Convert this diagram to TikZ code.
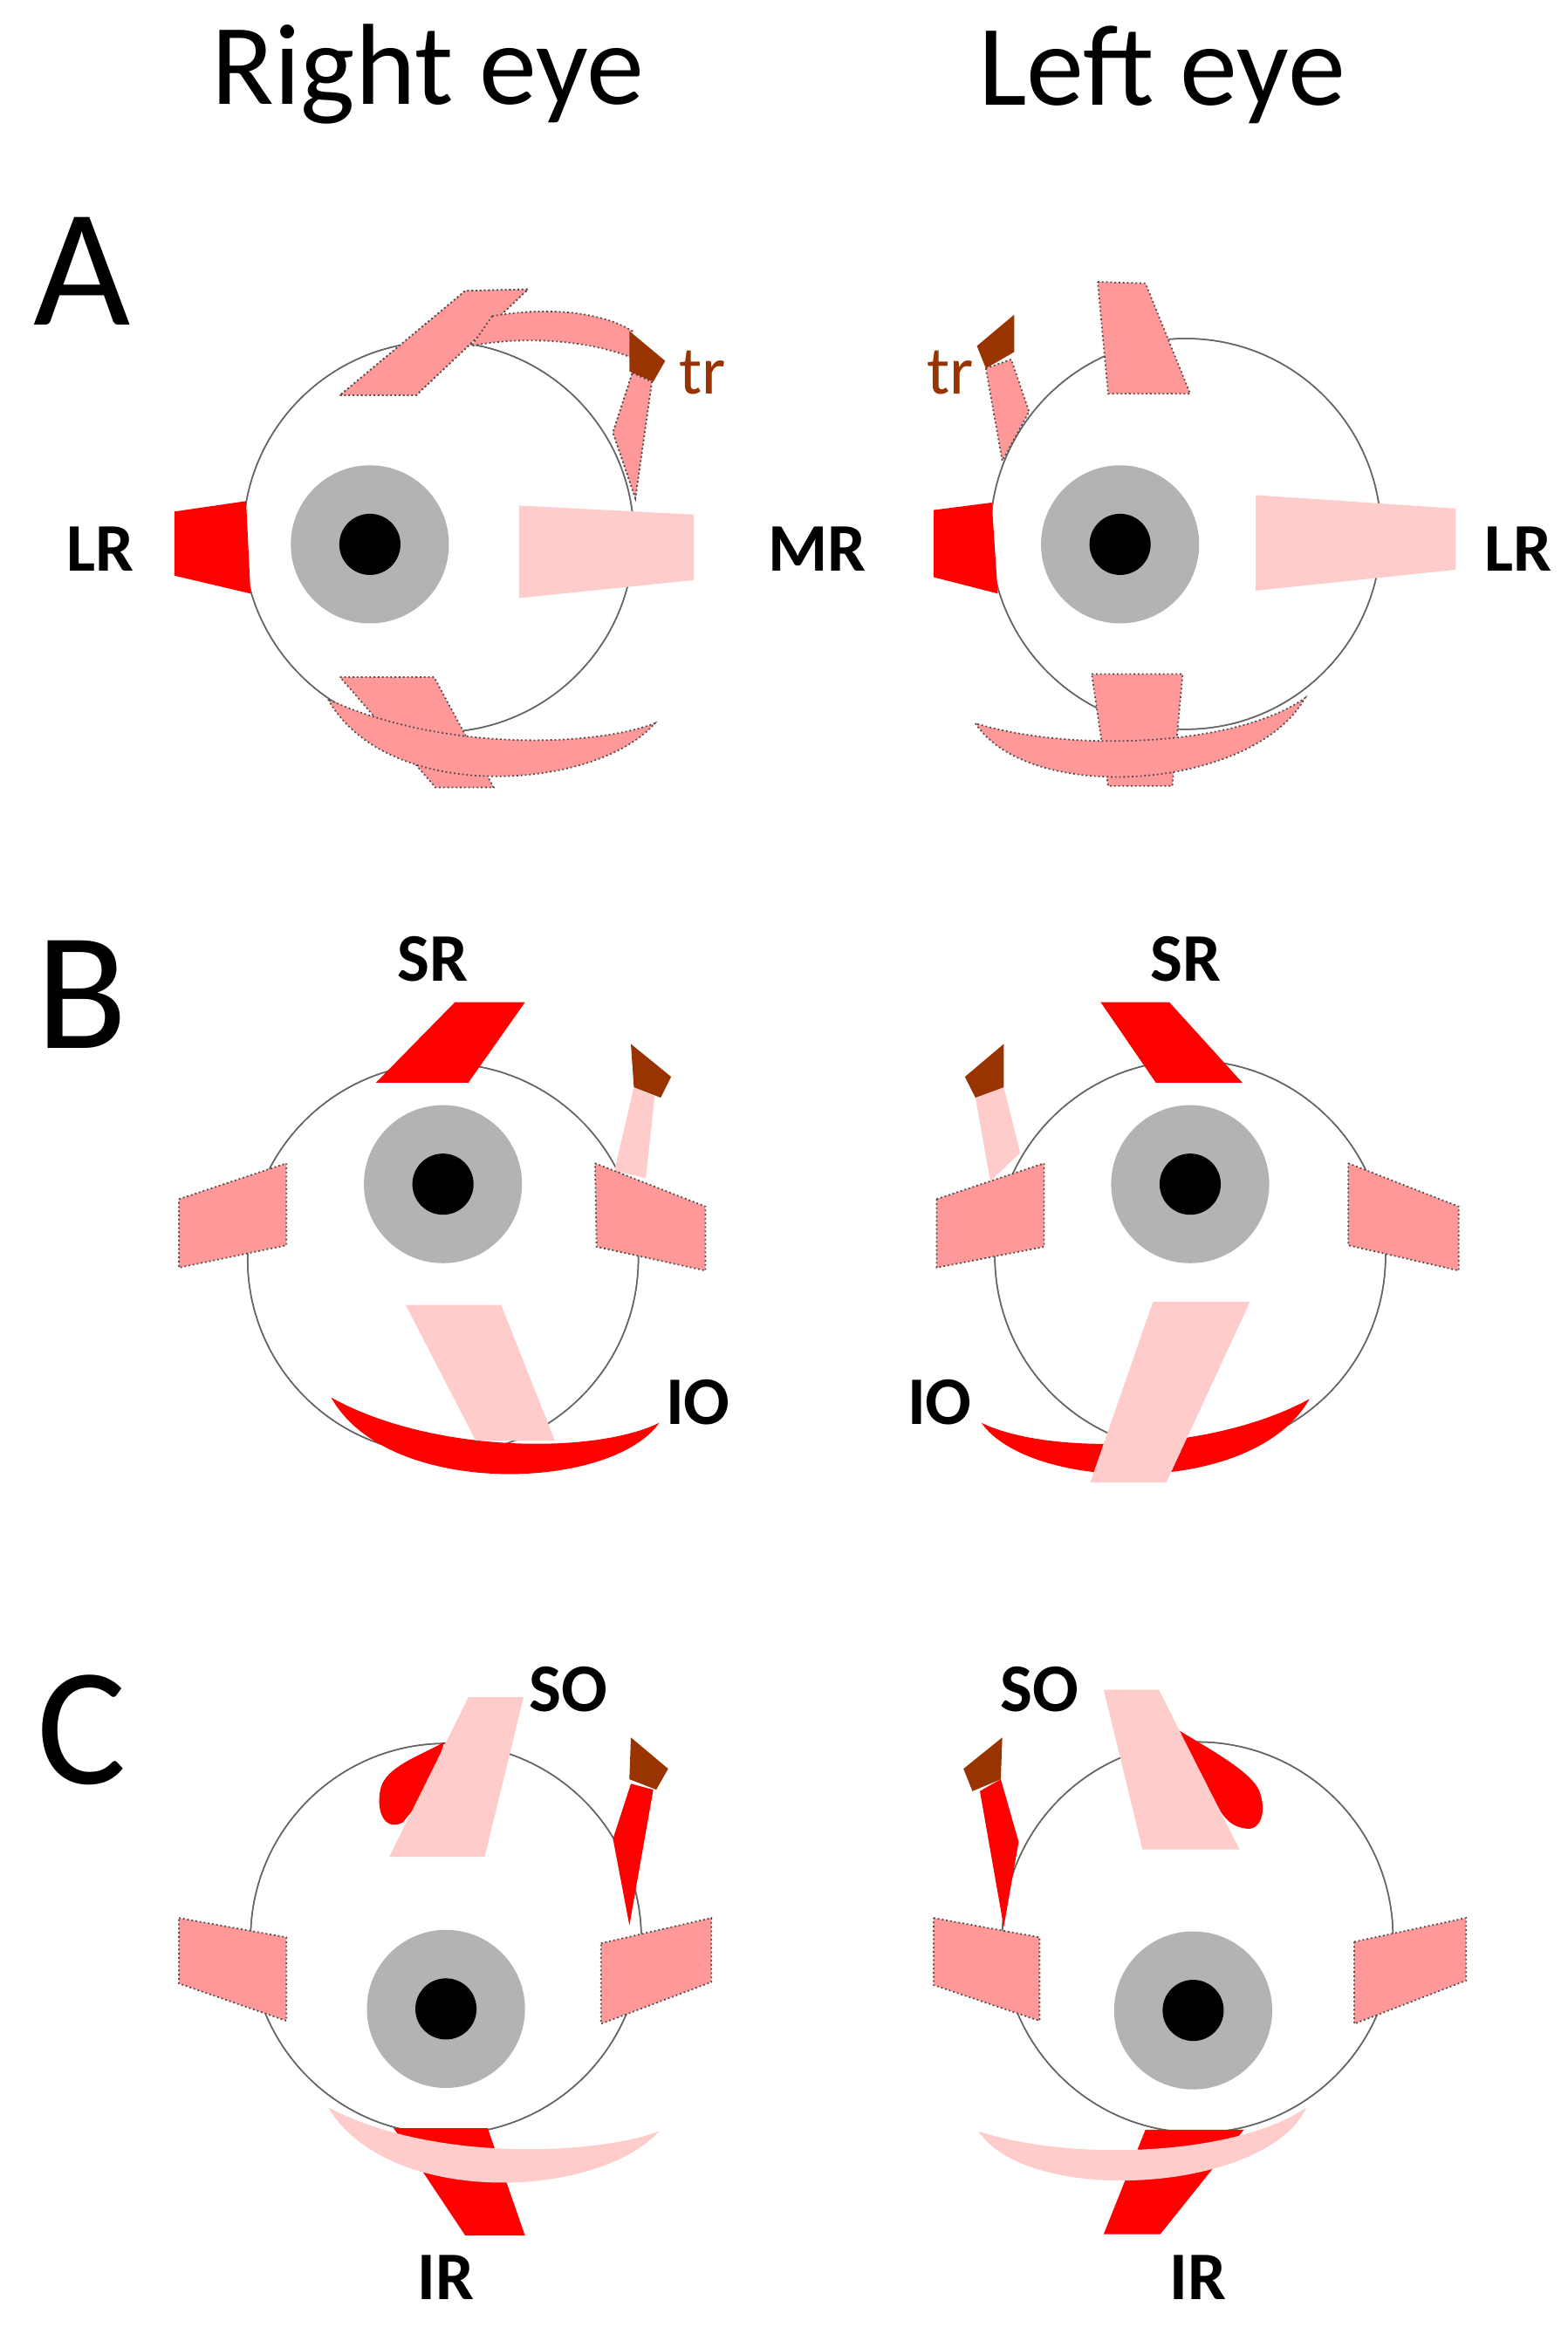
\documentclass[tikz,border=0pt]{standalone}
\usepackage{fontspec}
\setmainfont{Carlito}
\definecolor{mred}{HTML}{FF0000}
\definecolor{mpink}{HTML}{FFCCCC}
\definecolor{msal}{HTML}{FF9999}
\definecolor{mbrown}{HTML}{993300}
\definecolor{miris}{HTML}{B3B3B3}
\begin{document}
\begin{tikzpicture}[x=0.02cm,y=-0.02cm,
  ball/.style={draw=gray!80!black,line width=0.5pt,fill=white},
  sal/.style={fill=msal,draw=gray!60!black,densely dotted,line width=0.6pt},
  red/.style={fill=mred},
  pnk/.style={fill=mpink},
  tro/.style={fill=mbrown},
  title/.style={font=\fontsize{44}{50}\selectfont},
  panel/.style={font=\fontsize{64}{70}\selectfont},
  lab/.style={font=\fontsize{26}{30}\selectfont\bfseries},
  trl/.style={font=\fontsize{26}{30}\selectfont,text=mbrown}]
\useasboundingbox (0,0) rectangle (1051,1565);
\newcommand{\eyeball}[3]{%
  \fill[ball] (#1) circle (131);
  \fill[miris] (#2) circle (53);
  \fill[black] (#2) circle (20.5);
  \draw[draw=gray!80!black,line width=0.5pt] (#1) circle (131);}
% titles
\node[title] (t1) at (287,50) {Right eye};
\node[title] (t2) at (779,50) {Left eye};
\node[panel] (pa) at (55,182) {A};
\node[panel] (pb) at (55,667) {B};
\node[panel] (pc) at (55,1160) {C};
% ================= A right
\eyeball{294,360}{248,365}
\fill[sal] (330,212) .. controls (370,205) and (405,210) .. (424,222) -- (424,240) .. controls (395,228) and (350,225) .. (316,232) -- cycle;
\fill[sal] (228,265) -- (279,265) -- (354,194) -- (312,195) -- cycle;
\draw[sal] (228,265) -- (279,265) -- (354,194) -- (312,195) -- cycle;
\draw[sal] (330,212) .. controls (370,205) and (405,210) .. (424,222) -- (424,240) .. controls (395,228) and (350,225) .. (316,232) -- cycle;
\fill[sal] (424,250) -- (437,256) -- (426,334) -- (411,290) -- cycle;
\draw[sal] (424,250) -- (437,256) -- (426,334) -- (411,290) -- cycle;
\fill[tro] (422,222) -- (446,242) -- (438,256) -- (422,249) -- cycle;
\fill[red] (117,343) -- (165,336) -- (168,398) -- (117,386) -- cycle;
\fill[pnk] (348,339) -- (465,345) -- (465,389) -- (348,401) -- cycle;
\draw[sal] (228,454) -- (291,454) -- (331,528) -- (292,528) -- cycle;
\draw[sal] (220,469) .. controls (260,540) and (400,530) .. (439,485) .. controls (400,500) and (300,505) .. (220,469) -- cycle;
\node[lab] (alr) at (67,368) {LR};
\node[lab] (amr) at (548,368) {MR};
\node[trl] (atr1) at (471,250) {tr};
% ================= A left
\eyeball{795,358}{751,365}
\draw[sal] (680,212) .. controls (700,205) and (760,200) .. (782,222) .. controls (800,235) and (812,250) .. (812,262) -- (792,250) .. controls (770,232) and (720,226) .. (680,236) -- cycle;
\draw[sal] (736,189) -- (768,190) -- (798,264) -- (743,264) -- cycle;
\draw[sal] (661,247) -- (678,241) -- (690,276) -- (672,309) -- cycle;
\fill[tro] (655,232) -- (680,211) -- (680,236) -- (661,247) -- cycle;
\fill[red] (626,342) -- (665,337) -- (669,398) -- (626,387) -- cycle;
\fill[pnk] (842,332) -- (976,341) -- (976,382) -- (842,396) -- cycle;
\draw[sal] (732,452) -- (793,452) -- (786,527) -- (743,527) -- cycle;
\draw[sal] (654,485) .. controls (690,540) and (840,530) .. (875,468) .. controls (830,500) and (720,505) .. (654,485) -- cycle;
\node[lab] (alr2) at (1018,368) {LR};
\node[trl] (atr2) at (637,250) {tr};
% ================= B right
\eyeball{297,844}{297,794}
\fill[pnk] (333,692) .. controls (370,685) and (405,690) .. (424,701) -- (424,717) .. controls (395,708) and (355,703) .. (324,708) -- cycle;
\fill[pnk] (425,729) -- (439,735) -- (433,790) -- (412,785) -- cycle;
\fill[tro] (423,700) -- (450,722) -- (443,736) -- (425,729) -- cycle;
\fill[red] (252,726) -- (314,726) -- (352,672) -- (305,672) -- cycle;
\draw[sal] (120,804) -- (192,780) -- (192,835) -- (120,850) -- cycle;
\draw[sal] (399,780) -- (473,809) -- (473,852) -- (400,836) -- cycle;
\fill[red] (222,937) .. controls (260,1005) and (410,1000) .. (442,954) .. controls (400,975) and (290,975) .. (222,937) -- cycle;
\fill[pnk] (272,875) -- (336,875) -- (372,966) -- (319,966) -- cycle;
\node[lab] (bsr1) at (290,643) {SR};
\node[lab] (bio1) at (468,940) {IO};
% ================= B left
\eyeball{798,842}{798,794}
\fill[pnk] (673,701) .. controls (700,690) and (730,688) .. (752,691) -- (763,708) .. controls (730,705) and (700,708) .. (673,717) -- cycle;
\fill[pnk] (654,736) -- (673,729) -- (684,773) -- (664,792) -- cycle;
\fill[tro] (647,722) -- (673,700) -- (673,729) -- (654,736) -- cycle;
\fill[red] (738,672) -- (784,672) -- (833,726) -- (775,726) -- cycle;
\draw[sal] (628,804) -- (700,780) -- (700,836) -- (628,850) -- cycle;
\draw[sal] (904,780) -- (978,809) -- (978,852) -- (904,835) -- cycle;
\fill[red] (658,954) .. controls (690,1000) and (840,1005) .. (878,938) .. controls (810,975) and (700,975) .. (658,954) -- cycle;
\fill[pnk] (773,873) -- (838,873) -- (782,994) -- (731,994) -- cycle;
\node[lab] (bsr2) at (795,643) {SR};
\node[lab] (bio2) at (630,940) {IO};
% ================= C right
\eyeball{299,1300}{299,1347}
\fill[red] (346,1157) .. controls (380,1160) and (405,1168) .. (423,1178) -- (423,1196) .. controls (400,1190) and (370,1185) .. (341,1186) -- cycle;
\fill[red] (298,1168) .. controls (280,1178) and (258,1185) .. (255,1200) .. controls (252,1215) and (258,1228) .. (270,1222) -- (288,1200) -- cycle;
\fill[pnk] (314,1138) -- (351,1138) -- (325,1245) -- (261,1245) -- cycle;
\fill[red] (423,1196) -- (438,1200) -- (422,1291) -- (411,1233) -- cycle;
\fill[tro] (423,1165) -- (448,1186) -- (440,1200) -- (422,1193) -- cycle;
\draw[sal] (120,1286) -- (192,1299) -- (192,1355) -- (120,1330) -- cycle;
\draw[sal] (403,1303) -- (477,1286) -- (477,1329) -- (403,1357) -- cycle;
\fill[red] (264,1427) -- (327,1427) -- (352,1499) -- (312,1499) -- cycle;
\fill[pnk] (220,1413) .. controls (260,1480) and (400,1475) .. (442,1429) .. controls (400,1445) and (290,1450) .. (220,1413) -- cycle;
\node[lab] (cso1) at (381,1133) {SO};
\node[lab] (cir1) at (299,1527) {IR};
% ================= C left
\eyeball{803,1299}{800,1348}
\fill[red] (671,1168) .. controls (700,1158) and (725,1152) .. (745,1150) -- (750,1177) .. controls (720,1177) and (690,1180) .. (669,1185) -- cycle;
\fill[red] (790,1160) .. controls (815,1175) and (838,1188) .. (844,1200) .. controls (850,1215) and (845,1228) .. (835,1226) .. controls (828,1225) and (823,1222) .. (818,1214) -- cycle;
\fill[pnk] (740,1133) -- (777,1133) -- (831,1240) -- (766,1240) -- cycle;
\fill[red] (657,1201) -- (671,1193) -- (683,1235) -- (673,1292) -- cycle;
\fill[tro] (646,1186) -- (672,1165) -- (671,1193) -- (652,1201) -- cycle;
\draw[sal] (626,1286) -- (697,1299) -- (697,1355) -- (626,1331) -- cycle;
\draw[sal] (908,1302) -- (983,1286) -- (983,1328) -- (908,1357) -- cycle;
\fill[red] (768,1428) -- (834,1428) -- (778,1498) -- (740,1498) -- cycle;
\fill[pnk] (656,1429) .. controls (690,1480) and (850,1470) .. (876,1413) .. controls (830,1445) and (720,1450) .. (656,1429) -- cycle;
\node[lab] (cso2) at (697,1133) {SO};
\node[lab] (cir2) at (803,1527) {IR};
\end{tikzpicture}
\end{document}
